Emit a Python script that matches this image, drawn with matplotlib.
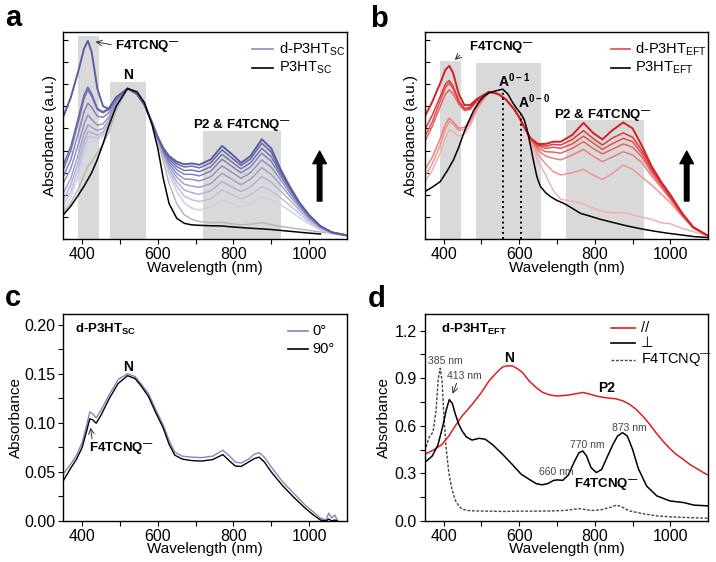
import numpy as np
import matplotlib
matplotlib.use("Agg")
import matplotlib.pyplot as plt

plt.rcParams['font.family'] = ['Liberation Sans', 'DejaVu Sans']
plt.rcParams['mathtext.fontset'] = 'custom'
plt.rcParams['mathtext.rm'] = 'Liberation Sans'
plt.rcParams['mathtext.bf'] = 'Liberation Sans:bold'
plt.rcParams['axes.linewidth'] = 1.0

nan = np.nan

# ---------------- panel a / b : doping series (arbitrary units)
wl = [350, 370, 390, 405, 415, 425, 440, 455, 470, 490,
      520, 545, 565, 585, 600, 615, 630, 650, 670, 690, 710,
      740, 770, 795, 820, 845, 875, 900, 925, 950, 975, 1000, 1030, 1060, 1100]

sc_doped = [
    [0.553, 0.64, 0.76, 0.86, 0.895, 0.845, 0.68, 0.6, 0.588, 0.64,
     0.68, 0.655, 0.605, 0.525, 0.46, 0.41, 0.375, 0.35, 0.338, 0.342, 0.336,
     0.36, 0.421, 0.385, 0.345, 0.375, 0.451, 0.41, 0.315, 0.235, 0.165, 0.11, 0.06, 0.032, 0.018],
    [0.335, 0.42, 0.55, 0.65, 0.686, 0.655, 0.59, 0.575, 0.59, 0.64,
     0.68, 0.655, 0.605, 0.525, 0.46, 0.405, 0.368, 0.34, 0.326, 0.33, 0.322,
     0.345, 0.403, 0.368, 0.333, 0.362, 0.433, 0.393, 0.306, 0.232, 0.163, 0.108, 0.06, 0.032, 0.018],
    [0.313, 0.40, 0.53, 0.635, 0.674, 0.645, 0.585, 0.57, 0.585, 0.635,
     0.68, 0.655, 0.605, 0.525, 0.46, 0.40, 0.36, 0.328, 0.31, 0.312, 0.305,
     0.327, 0.383, 0.35, 0.318, 0.345, 0.41, 0.373, 0.296, 0.226, 0.16, 0.106, 0.058, 0.031, 0.018],
    [0.283, 0.36, 0.48, 0.575, 0.614, 0.595, 0.555, 0.55, 0.57, 0.628,
     0.68, 0.655, 0.605, 0.525, 0.458, 0.395, 0.35, 0.314, 0.293, 0.293, 0.286,
     0.307, 0.361, 0.33, 0.30, 0.326, 0.388, 0.352, 0.285, 0.218, 0.156, 0.103, 0.057, 0.031, 0.018],
    [0.253, 0.32, 0.43, 0.52, 0.561, 0.54, 0.515, 0.52, 0.55, 0.62,
     0.68, 0.655, 0.605, 0.525, 0.456, 0.39, 0.34, 0.297, 0.272, 0.27, 0.263,
     0.282, 0.331, 0.303, 0.275, 0.30, 0.358, 0.325, 0.268, 0.207, 0.15, 0.1, 0.056, 0.03, 0.017],
    [0.208, 0.275, 0.385, 0.475, 0.516, 0.505, 0.49, 0.5, 0.535, 0.612,
     0.68, 0.655, 0.605, 0.524, 0.454, 0.385, 0.33, 0.28, 0.248, 0.24, 0.234,
     0.251, 0.298, 0.272, 0.246, 0.27, 0.323, 0.293, 0.245, 0.193, 0.142, 0.095, 0.054, 0.03, 0.017],
    [0.177, 0.245, 0.35, 0.44, 0.486, 0.48, 0.47, 0.485, 0.522, 0.605,
     0.68, 0.655, 0.605, 0.523, 0.452, 0.38, 0.318, 0.26, 0.222, 0.21, 0.203,
     0.218, 0.26, 0.237, 0.215, 0.236, 0.283, 0.258, 0.218, 0.175, 0.13, 0.089, 0.051, 0.029, 0.017],
    [0.155, 0.215, 0.32, 0.41, 0.463, 0.46, 0.458, 0.475, 0.513, 0.6,
     0.68, 0.655, 0.605, 0.522, 0.45, 0.375, 0.305, 0.24, 0.195, 0.178, 0.17,
     0.183, 0.222, 0.202, 0.182, 0.2, 0.238, 0.218, 0.187, 0.152, 0.115, 0.08, 0.047, 0.027, 0.016],
    [0.132, 0.19, 0.29, 0.38, 0.44, 0.44, 0.445, 0.465, 0.505, 0.595,
     0.68, 0.655, 0.605, 0.521, 0.448, 0.37, 0.29, 0.215, 0.165, 0.14, 0.132,
     0.145, 0.177, 0.162, 0.146, 0.16, 0.193, 0.178, 0.155, 0.128, 0.098, 0.07, 0.042, 0.025, 0.015],
    [0.12, 0.165, 0.23, 0.29, 0.33, 0.35, 0.39, 0.43, 0.48, 0.58,
     0.68, 0.66, 0.61, 0.52, 0.44, 0.35, 0.25, 0.16, 0.11, 0.09, 0.08,
     0.075, 0.076, 0.07, 0.066, 0.068, 0.075, 0.066, 0.058, 0.052, 0.046, 0.04, 0.033, 0.027, 0.02],
]
sc_pristine = [0.11, 0.15, 0.2, 0.24, 0.27, 0.3, 0.36, 0.43, 0.51, 0.6,
               0.68, 0.665, 0.615, 0.515, 0.41, 0.27, 0.16, 0.095, 0.072, 0.065, 0.063,
               0.061, 0.06, 0.056, 0.053, 0.05, 0.047, 0.044, 0.04, 0.036, 0.032, 0.028, 0.024, nan, nan]

eft_doped = [
    [0.553, 0.62, 0.70, 0.765, 0.782, 0.75, 0.655, 0.605, 0.605, 0.635,
     0.665, 0.655, 0.63, 0.59, 0.55, 0.50, 0.455, 0.43, 0.43, 0.44, 0.44,
     0.47, 0.525, 0.48, 0.45, 0.49, 0.527, 0.50, 0.42, 0.33, 0.26, 0.20, 0.12, 0.055, 0.015],
    [0.493, 0.56, 0.64, 0.70, 0.716, 0.69, 0.625, 0.59, 0.595, 0.63,
     0.665, 0.655, 0.63, 0.59, 0.55, 0.50, 0.455, 0.425, 0.42, 0.428, 0.425,
     0.45, 0.49, 0.455, 0.425, 0.455, 0.48, 0.46, 0.40, 0.32, 0.255, 0.195, 0.118, 0.055, 0.015],
    [0.463, 0.53, 0.62, 0.685, 0.704, 0.68, 0.62, 0.585, 0.59, 0.628,
     0.665, 0.655, 0.63, 0.59, 0.55, 0.50, 0.455, 0.42, 0.41, 0.415, 0.41,
     0.43, 0.465, 0.435, 0.405, 0.43, 0.455, 0.44, 0.385, 0.31, 0.25, 0.19, 0.115, 0.055, 0.015],
    [0.44, 0.51, 0.595, 0.655, 0.674, 0.655, 0.61, 0.58, 0.585, 0.625,
     0.665, 0.655, 0.63, 0.59, 0.55, 0.50, 0.455, 0.41, 0.395, 0.393, 0.388,
     0.41, 0.44, 0.41, 0.385, 0.405, 0.43, 0.415, 0.37, 0.30, 0.243, 0.185, 0.112, 0.054, 0.015],
    [0.313, 0.37, 0.45, 0.52, 0.546, 0.53, 0.50, 0.505, 0.535, 0.60,
     0.665, 0.655, 0.63, 0.59, 0.55, 0.50, 0.452, 0.40, 0.375, 0.365, 0.358,
     0.38, 0.405, 0.375, 0.35, 0.37, 0.395, 0.38, 0.345, 0.285, 0.235, 0.18, 0.11, 0.053, 0.015],
    [0.283, 0.34, 0.42, 0.50, 0.531, 0.52, 0.49, 0.495, 0.525, 0.595,
     0.665, 0.655, 0.63, 0.59, 0.55, 0.50, 0.448, 0.38, 0.34, 0.305, 0.29,
     0.30, 0.315, 0.29, 0.27, 0.295, 0.335, 0.315, 0.28, 0.245, 0.205, 0.165, 0.105, 0.05, 0.015],
    [0.26, 0.31, 0.385, 0.46, 0.493, 0.485, 0.465, 0.475, 0.51, 0.59,
     0.665, 0.655, 0.63, 0.59, 0.55, 0.495, 0.44, 0.35, 0.29, 0.22, 0.18,
     0.172, 0.16, 0.14, 0.125, 0.12, 0.12, 0.11, 0.10, 0.09, 0.075, 0.07, 0.05, 0.035, 0.015],
]
wl_eft = [350, 370, 391, 410, 426, 440, 453, 467, 480, 494, 506, 520, 535, 556, 570,
          581, 593, 605, 613, 621, 630, 639, 647, 656, 670, 683, 700, 718, 740, 762,
          790, 815, 850, 886, 920, 956, 990, 1027, 1063, 1100]
eft_pristine = [0.215, 0.235, 0.26, 0.31, 0.358, 0.415, 0.478, 0.535, 0.583, 0.62, 0.644,
                0.66, 0.668, 0.677, 0.655, 0.621, 0.59, 0.565, 0.54, 0.493, 0.42, 0.343,
                0.28, 0.238, 0.21, 0.192, 0.175, 0.162, 0.14, 0.117, 0.103, 0.09, 0.075,
                0.06, 0.048, 0.037, 0.028, 0.02, 0.012, 0.008]

# ---------------- panel c : polarised, d-P3HT SC
wl_c = [350, 370, 385, 400, 412, 420, 428, 437, 450, 472, 495, 520, 540, 555, 575, 595,
        614, 630, 645, 665, 690, 715, 745, 772, 790, 805, 820, 840, 855, 868, 882, 900,
        930, 960, 990, 1012, 1030, 1045, 1052, 1060, 1068, 1075]
c_90 = [0.041, 0.054, 0.063, 0.075, 0.092, 0.104, 0.103, 0.0995, 0.108, 0.125, 0.14,
        0.148, 0.145, 0.138, 0.127, 0.11, 0.095, 0.078, 0.067, 0.063, 0.0615, 0.061,
        0.0625, 0.0676, 0.061, 0.056, 0.0555, 0.06, 0.0635, 0.065, 0.06, 0.05, 0.036,
        0.024, 0.013, 0.006, 0.001, 0.0, 0.002, 0.0, 0.001, 0.0]
c_0 = [0.048, 0.058, 0.067, 0.08, 0.098, 0.111, 0.109, 0.105, 0.113, 0.129, 0.144,
       0.15, 0.147, 0.14, 0.13, 0.113, 0.098, 0.082, 0.07, 0.066, 0.065, 0.0645,
       0.066, 0.072, 0.066, 0.06, 0.059, 0.063, 0.068, 0.0695, 0.065, 0.055, 0.04,
       0.028, 0.016, 0.009, 0.003, 0.001, 0.008, 0.003, 0.006, 0.001]

# ---------------- panel d : polarised, d-P3HT EFT
wl_par = [350, 375, 396, 415, 431, 450, 476, 500, 520, 540, 556, 570, 582, 595, 609, 626,
          645, 662, 680, 697, 715, 733, 750, 768, 786, 803, 820, 838, 856, 874, 892, 909,
          927, 945, 962, 980, 997, 1015, 1033, 1051, 1073, 1095, 1100]
d_par = [0.42, 0.45, 0.483, 0.54, 0.6, 0.665, 0.736, 0.81, 0.883, 0.935, 0.971, 0.978,
         0.977, 0.96, 0.935, 0.883, 0.84, 0.81, 0.795, 0.788, 0.79, 0.795, 0.802, 0.81,
         0.8, 0.788, 0.78, 0.774, 0.77, 0.757, 0.735, 0.704, 0.66, 0.61, 0.555, 0.504,
         0.46, 0.42, 0.39, 0.357, 0.325, 0.294, 0.29]
wl_perp = [350, 370, 385, 398, 407, 415, 423, 431, 440, 449, 460, 475, 494, 510, 530, 556,
           580, 605, 626, 645, 660, 675, 690, 700, 715, 730, 745, 758, 768, 778, 790, 804,
           818, 832, 848, 860, 873, 886, 900, 915, 937, 964, 999, 1035, 1062, 1100]
d_perp = [0.368, 0.41, 0.48, 0.6, 0.7, 0.765, 0.74, 0.673, 0.61, 0.567, 0.53, 0.51,
          0.521, 0.515, 0.48, 0.42, 0.36, 0.295, 0.263, 0.235, 0.228, 0.235, 0.255, 0.259,
          0.256, 0.29, 0.37, 0.43, 0.441, 0.41, 0.336, 0.305, 0.325, 0.4, 0.483, 0.535,
          0.557, 0.535, 0.45, 0.33, 0.22, 0.158, 0.126, 0.116, 0.1, 0.095]
wl_anion = [350, 362, 372, 380, 386, 391, 396, 401, 407, 414, 422, 431, 440, 449, 465, 485,
            520, 560, 600, 640, 680, 720, 745, 760, 775, 790, 815, 840, 857, 870, 892, 930,
            964, 1000, 1051, 1100]
d_anion = [0.44, 0.53, 0.56, 0.7, 0.9, 0.963, 0.88, 0.65, 0.45, 0.3, 0.2, 0.13, 0.095,
           0.074, 0.066, 0.063, 0.062, 0.06, 0.062, 0.062, 0.063, 0.066, 0.074, 0.078,
           0.072, 0.066, 0.07, 0.085, 0.1, 0.09, 0.063, 0.045, 0.032, 0.026, 0.021, 0.017]

# shaded spectral regions (start, end, top)
bands_a = [(390, 445, 0.917), (474, 569, 0.711), (720, 926, 0.488)]
bands_b = [(391, 446, 0.806), (485, 658, 0.797), (725, 931, 0.538)]

purples = ['#5c5ca2', '#6868aa', '#7575b2', '#8383ba', '#9292c3',
           '#a1a1cc', '#b1b1d5', '#c1c1de', '#d0d0e7', '#b8b8b8']
reds = ['#d42222', '#dc3a3a', '#e25050', '#e66464', '#ec7e7e', '#f09696', '#f4b0b0']

ANION = r'F4TCNQ$^{\mathbf{—}}$'
TICK_FS = 11.5

fig = plt.figure(figsize=(7.16, 5.62), dpi=100)
ax_a = fig.add_axes([0.0884, 0.5742, 0.396, 0.369])
ax_b = fig.add_axes([0.5932, 0.5742, 0.396, 0.369])
ax_c = fig.add_axes([0.0884, 0.073, 0.396, 0.369])
ax_d = fig.add_axes([0.5932, 0.073, 0.396, 0.369])


def style_x(ax):
    ax.set_xlim(350, 1100)
    ax.set_xticks(range(400, 1001, 100))
    ax.set_xticklabels(['400', '', '600', '', '800', '', '1000'], fontsize=TICK_FS)
    ax.set_xlabel('Wavelength (nm)', fontsize=11, labelpad=-1)
    ax.tick_params(axis='x', direction='out', length=3.5, width=0.8, pad=2)


def legend_rows(ax, rows, x0, x1, xt, ys, fs=10.5):
    for (label, kw), y in zip(rows, ys):
        ax.plot([x0, x1], [y, y], transform=ax.transAxes, **kw)
        ax.text(xt, y, label, transform=ax.transAxes, fontsize=fs, va='center')


def big_arrow(ax, x, y0, y1):
    ax.annotate('', xy=(x, y1), xytext=(x, y0),
                arrowprops=dict(arrowstyle='simple,head_width=0.65,head_length=0.6,tail_width=0.22',
                                mutation_scale=15, fc='k', ec='k'))


# ---- a
ax = ax_a
for x0, x1, top in bands_a:
    ax.fill_between([x0, x1], 0, top, color='#d9d9d9', lw=0, zorder=0)
for i, (ys, col) in list(enumerate(zip(sc_doped, purples)))[::-1]:
    ax.plot(wl, ys, color=col, lw=1.4 if i == 0 else 1.1)
ax.plot(wl, sc_pristine, color='k', lw=1.1)
ax.set_ylim(0, 0.935)
ax.set_yticks(np.arange(0, 0.95, 0.1))
ax.set_yticklabels([])
ax.tick_params(axis='y', direction='in', length=3.5, width=0.8)
ax.set_ylabel('Absorbance (a.u.)', fontsize=11, labelpad=1)
style_x(ax)
ax.text(487, 0.872, ANION, fontsize=9.5, fontweight='bold', va='center')
ax.annotate('', xy=(428, 0.893), xytext=(484, 0.875),
            arrowprops=dict(arrowstyle='->', lw=0.7, color='#333333'))
ax.text(522, 0.74, 'N', fontsize=10, fontweight='bold', ha='center', va='center')
ax.text(823, 0.515, 'P2 & ' + ANION, fontsize=9.5, fontweight='bold', ha='center', va='center')
big_arrow(ax, 1028, 0.16, 0.41)
legend_rows(ax, [(r'd-P3HT$_\mathregular{SC}$', dict(color='#8a8ac2', lw=1.2)),
                 (r'P3HT$_\mathregular{SC}$', dict(color='k', lw=1.2))],
            0.667, 0.738, 0.76, [0.918, 0.826])

# ---- b
ax = ax_b
for x0, x1, top in bands_b:
    ax.fill_between([x0, x1], 0, top, color='#d9d9d9', lw=0, zorder=0)
for i, (ys, col) in list(enumerate(zip(eft_doped, reds)))[::-1]:
    ax.plot(wl, ys, color=col, lw=1.4 if i == 0 else 1.1)
ax.plot(wl_eft, eft_pristine, color='k', lw=1.1)
ax.plot([556, 556], [0, 0.674], color='k', lw=1.4, ls=':')
ax.plot([605, 605], [0, 0.565], color='k', lw=1.4, ls=':')
ax.set_ylim(0, 0.935)
ax.set_yticks(np.arange(0, 0.95, 0.1))
ax.set_yticklabels([])
ax.tick_params(axis='y', direction='in', length=3.5, width=0.8)
ax.set_ylabel('Absorbance (a.u.)', fontsize=11, labelpad=1)
style_x(ax)
ax.text(466, 0.868, ANION, fontsize=9.5, fontweight='bold', va='center')
ax.annotate('', xy=(424, 0.80), xytext=(448, 0.838),
            arrowprops=dict(arrowstyle='->', lw=0.7, color='#333333'))
ax.text(545, 0.715, r'A$^{\mathbf{0-1}}$', fontsize=10, fontweight='bold', va='center')
ax.text(598, 0.622, r'A$^{\mathbf{0-0}}$', fontsize=10, fontweight='bold', va='center')
ax.text(822, 0.56, 'P2 & ' + ANION, fontsize=9.5, fontweight='bold', ha='center', va='center')
big_arrow(ax, 1043, 0.16, 0.41)
legend_rows(ax, [(r'd-P3HT$_\mathregular{EFT}$', dict(color='#e34848', lw=1.2)),
                 (r'P3HT$_\mathregular{EFT}$', dict(color='k', lw=1.2))],
            0.657, 0.724, 0.742, [0.918, 0.826])

# ---- c
ax = ax_c
ax.plot(wl_c, c_0, color='#8585bd', lw=1.0)
ax.plot(wl_c, c_90, color='k', lw=1.0)
ax.set_ylim(0, 0.2112)
ax.set_yticks([0, 0.05, 0.10, 0.15, 0.20])
ax.set_yticklabels(['0.00', '0.05', '0.10', '0.15', '0.20'], fontsize=TICK_FS)
ax.set_yticks(np.arange(0.025, 0.2, 0.05), minor=True)
ax.tick_params(axis='y', which='both', direction='out', length=3.5, width=0.8, pad=2)
ax.set_ylabel('Absorbance', fontsize=11, labelpad=1)
style_x(ax)
ax.text(0.04, 0.924, r'd-P3HT$_{\mathbf{SC}}$', transform=ax.transAxes,
        fontsize=9.5, fontweight='bold', va='center')
ax.text(522, 0.157, 'N', fontsize=10, fontweight='bold', ha='center', va='center')
ax.text(418, 0.0745, ANION, fontsize=9.5, fontweight='bold', va='center')
ax.annotate('', xy=(421, 0.098), xytext=(427, 0.081),
            arrowprops=dict(arrowstyle='->', lw=0.7, color='#333333'))
legend_rows(ax, [('0°', dict(color='#8585bd', lw=1.2)),
                 ('90°', dict(color='k', lw=1.2))],
            0.791, 0.862, 0.88, [0.915, 0.828])

# ---- d
ax = ax_d
ax.plot(wl_anion, d_anion, color='#444444', lw=1.0, ls=(0, (2, 1.2)))
ax.plot(wl_par, d_par, color='#e01e1e', lw=1.1)
ax.plot(wl_perp, d_perp, color='k', lw=1.1)
ax.set_ylim(0, 1.307)
ax.set_yticks([0, 0.3, 0.6, 0.9, 1.2])
ax.set_yticklabels(['0.0', '0.3', '0.6', '0.9', '1.2'], fontsize=TICK_FS)
ax.set_yticks([0.15, 0.45, 0.75, 1.05], minor=True)
ax.tick_params(axis='y', which='both', direction='out', length=3.5, width=0.8, pad=2)
ax.set_ylabel('Absorbance', fontsize=11, labelpad=3)
style_x(ax)
ax.text(0.056, 0.924, r'd-P3HT$_{\mathbf{EFT}}$', transform=ax.transAxes,
        fontsize=9.5, fontweight='bold', va='center')
ax.text(573, 1.025, 'N', fontsize=10, fontweight='bold', ha='center', va='center')
ax.text(832, 0.84, 'P2', fontsize=10, fontweight='bold', ha='center', va='center')
ax.text(831, 0.231, ANION, fontsize=9.5, fontweight='bold', ha='center', va='center')
small = dict(fontsize=7.5, color='#444444', ha='center', va='center')
ax.text(405, 1.008, '385 nm', **small)
ax.text(454, 0.914, '413 nm', **small)
ax.text(697, 0.309, '660 nm', **small)
ax.text(780, 0.477, '770 nm', **small)
ax.text(892, 0.588, '873 nm', **small)
ax.annotate('', xy=(421, 0.785), xytext=(437, 0.885),
            arrowprops=dict(arrowstyle='->', lw=0.7, color='#333333'))
legend_rows(ax, [('//', dict(color='#e01e1e', lw=1.2)),
                 ('⊥', dict(color='k', lw=1.2)),
                 (ANION.replace(r'\mathbf', r'\mathregular'),
                  dict(color='#444444', lw=1.0, ls=(0, (2, 1.2))))],
            0.656, 0.74, 0.761, [0.931, 0.856, 0.778])

# panel letters
for lab, x, y in [('a', 0.007, 0.954), ('b', 0.517, 0.952), ('c', 0.007, 0.455), ('d', 0.513, 0.453)]:
    fig.text(x, y, lab, fontsize=21, fontweight='bold', va='baseline')

fig.savefig('out.png', dpi=100)
